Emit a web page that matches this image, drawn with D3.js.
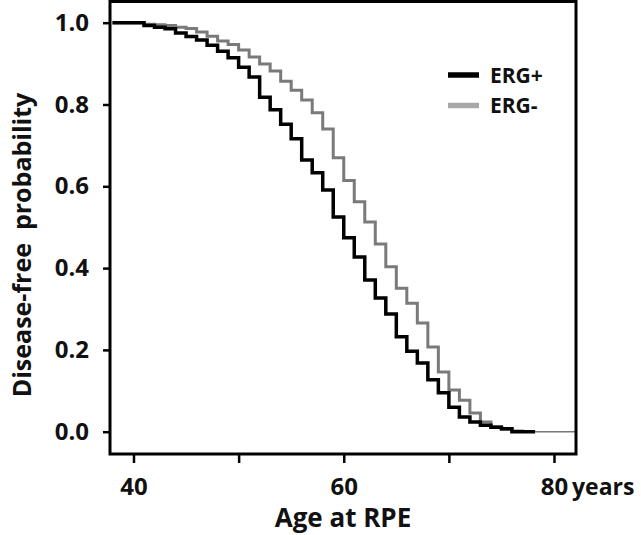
<!DOCTYPE html>
<html>
<head>
<meta charset="utf-8">
<script src="https://cdn.jsdelivr.net/npm/d3@7"></script>
<style>
  html, body { margin: 0; padding: 0; background: #fff; }
  svg { display: block; }
  text { font-family: "Open Sans", sans-serif; font-weight: 700; fill: #111; }
</style>
</head>
<body>
<svg id="chart" width="641" height="535"></svg>
<script>
// Kaplan-Meier style curves, disease-free probability by age at RPE
const ages = [41, 42, 43, 44, 45, 46, 47, 48, 49, 50, 51, 52, 53, 54, 55, 56, 57, 58, 59,
              60, 61, 62, 63, 64, 65, 66, 67, 68, 69, 70, 71, 72, 73, 74, 75, 76, 77];
const ergPos = [0.993, 0.989, 0.985, 0.975, 0.966, 0.958, 0.945, 0.930, 0.914, 0.891,
                0.867, 0.818, 0.787, 0.752, 0.716, 0.664, 0.633, 0.591, 0.525, 0.474,
                0.427, 0.371, 0.327, 0.288, 0.232, 0.197, 0.168, 0.127, 0.095, 0.060,
                0.036, 0.024, 0.016, 0.011, 0.007, 0.000, 0.000];
const ergNeg = [0.996, 0.995, 0.993, 0.989, 0.986, 0.977, 0.967, 0.955, 0.947, 0.933,
                0.916, 0.899, 0.882, 0.857, 0.835, 0.811, 0.780, 0.740, 0.670, 0.614,
                0.562, 0.513, 0.459, 0.403, 0.351, 0.314, 0.266, 0.207, 0.146, 0.102,
                0.077, 0.046, 0.024, 0.012, 0.006, 0.002, 0.000];
const startAge = 38;
const endAgePos = 78.2;
const endAgeNeg = 82;
const xTicks = [40, 50, 60, 70, 80];
const xLabels = ['40', '', '60', '', '80'];
const yTicks = [0, 0.2, 0.4, 0.6, 0.8, 1.0];
const seriesNames = ['ERG+', 'ERG-'];

const svg = d3.select('#chart');

// frame edges in px
const frameL = 110, frameR = 576, frameT = 1.5, frameB = 454;

const x = d3.scaleLinear().domain([40, 80]).range([133.5, 554]);
const y = d3.scaleLinear().domain([0, 1]).range([431.7, 22.7]);

function steps(vals, endAge) {
  const pts = [[startAge, 1]];
  ages.forEach((a, i) => pts.push([a, vals[i]]));
  pts.push([endAge, vals[vals.length - 1]]);
  return pts;
}

const line = d3.line()
  .x(d => x(d[0]))
  .y(d => y(d[1]))
  .curve(d3.curveStepAfter);

// ERG- (gray) first, black on top
const lastAge = ages[ages.length - 1];
const lastNeg = ergNeg[ergNeg.length - 1];
svg.append('path')
  .attr('d', line(steps(ergNeg, lastAge)))
  .attr('fill', 'none')
  .attr('stroke', '#7a7a7a')
  .attr('stroke-width', 3);
// thin gray tail after last event
svg.append('path')
  .attr('d', line([[lastAge, lastNeg], [endAgeNeg, lastNeg]]))
  .attr('fill', 'none')
  .attr('stroke', '#777')
  .attr('stroke-width', 1.6);

svg.append('path')
  .attr('d', line(steps(ergPos, endAgePos)))
  .attr('fill', 'none')
  .attr('stroke', '#000')
  .attr('stroke-width', 3.5);

// frame
svg.append('rect')
  .attr('x', frameL).attr('y', frameT)
  .attr('width', frameR - frameL).attr('height', frameB - frameT)
  .attr('fill', 'none')
  .attr('stroke', '#000')
  .attr('stroke-width', 3);

// axes
const xAxis = svg.append('g')
  .attr('transform', `translate(0,${frameB})`)
  .call(d3.axisBottom(x).tickValues(xTicks)
    .tickFormat((d, i) => xLabels[i]).tickSize(9).tickPadding(15));
const yAxis = svg.append('g')
  .attr('transform', `translate(${frameL},0)`)
  .call(d3.axisLeft(y).tickValues(yTicks)
    .tickFormat(d3.format('.1f')).tickSize(7).tickPadding(14));

[xAxis, yAxis].forEach(g => {
  g.select('.domain').remove();
  g.selectAll('.tick line').attr('stroke', '#000').attr('stroke-width', 2.5);
  g.selectAll('.tick text')
    .attr('font-family', '"Open Sans", sans-serif')
    .attr('font-weight', 700)
    .attr('font-size', 24)
    .attr('fill', '#111');
});

svg.append('text')
  .attr('x', 572).attr('y', 495)
  .attr('font-size', 23)
  .attr('font-weight', 600)
  .text('years');

svg.append('text')
  .attr('x', 343).attr('y', 527)
  .attr('text-anchor', 'middle')
  .attr('font-size', 26)
  .text('Age at RPE');

svg.append('text')
  .attr('transform', 'translate(31,245) rotate(-90)')
  .attr('text-anchor', 'middle')
  .attr('font-size', 25)
  .style('white-space', 'pre')
  .text('Disease-free  probability');

// legend
const legend = svg.append('g');
const legendColors = ['#000', '#a8a8a8'];
const legendY = [75, 105.5];
seriesNames.forEach((name, i) => {
  legend.append('line')
    .attr('x1', 448).attr('x2', 479)
    .attr('y1', legendY[i]).attr('y2', legendY[i])
    .attr('stroke', legendColors[i])
    .attr('stroke-width', 5.5);
  legend.append('text')
    .attr('x', 490).attr('y', legendY[i] + 7.5)
    .attr('font-size', 21)
    .text(name);
});
</script>
</body>
</html>
